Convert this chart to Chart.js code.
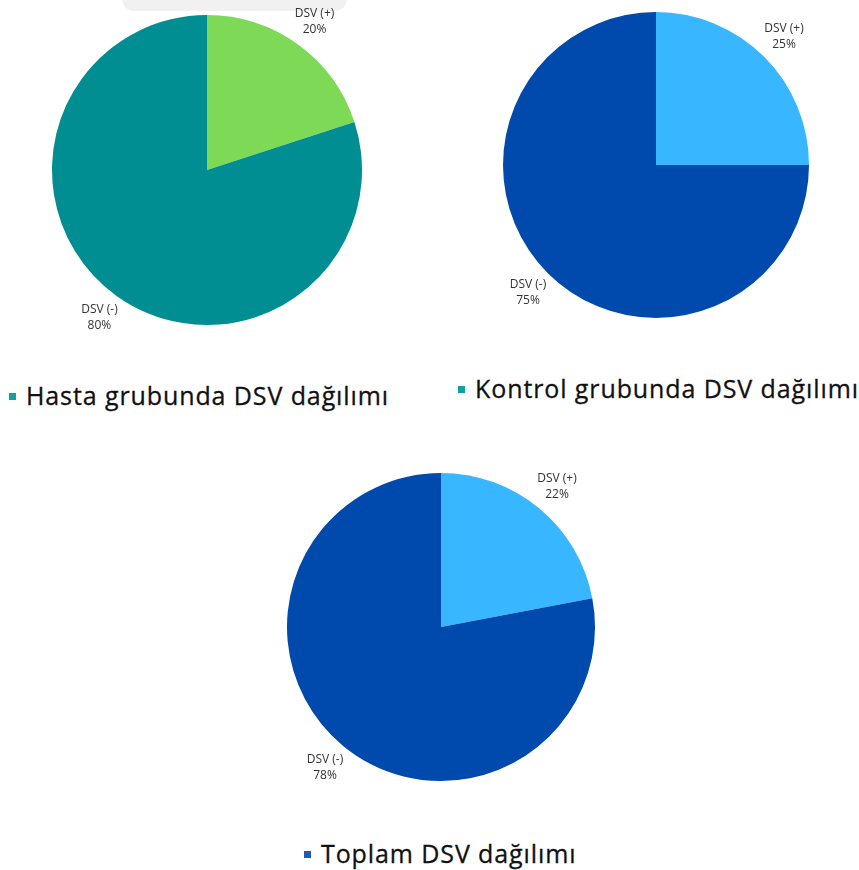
<!DOCTYPE html>
<html>
<head>
<meta charset="utf-8">
<script src="https://cdn.jsdelivr.net/npm/chart.js@4"></script>
<style>
  html, body { margin: 0; padding: 0; background: #fff; }
  body { width: 859px; height: 870px; position: relative; overflow: hidden; font-family: "Open Sans", sans-serif; }
  .pie { position: absolute; }
  .legend { position: absolute; font-size: 25px; font-weight: 500; letter-spacing: 0.9px; color: #111; white-space: nowrap; line-height: 30px; -webkit-text-stroke: 0.3px #111; }
  .legend span { display: inline-block; width: 7px; height: 7px; margin-right: 10px; vertical-align: middle; position: relative; top: -2px; }
  .shade { position: absolute; left: 122px; top: -11px; width: 225px; height: 22px; background: #f1f1f1; border-radius: 0 0 12px 12px; }
</style>
</head>
<body>
<div class="shade"></div>
<canvas id="pie1" class="pie"></canvas>
<canvas id="pie2" class="pie"></canvas>
<canvas id="pie3" class="pie"></canvas>
<div class="legend" id="leg1"></div>
<div class="legend" id="leg2"></div>
<div class="legend" id="leg3"></div>
<script>
// data
const categories = ['DSV (+)', 'DSV (-)'];
const hastaValues = [20, 80];
const kontrolValues = [25, 75];
const toplamValues = [22, 78];
const chartTitles = ['Hasta grubunda DSV dağılımı', 'Kontrol grubunda DSV dağılımı', 'Toplam DSV dağılımı'];

const PAD = 45;

// labels drawn outside each slice: name + percent
const outsideLabels = {
    id: 'outsideLabels',
    afterDatasetsDraw(chart) {
        const ctx = chart.ctx;
        const meta = chart.getDatasetMeta(0);
        const values = chart.data.datasets[0].data;
        ctx.save();
        ctx.font = '12px "Open Sans", sans-serif';
        ctx.fillStyle = '#333';
        ctx.textAlign = 'center';
        ctx.textBaseline = 'middle';
        meta.data.forEach((arc, i) => {
            const p = arc.getProps(['x', 'y', 'startAngle', 'endAngle', 'outerRadius'], true);
            const mid = (p.startAngle + p.endAngle) / 2;
            const r = p.outerRadius + 28;
            const x = p.x + Math.cos(mid) * r;
            const y = p.y + Math.sin(mid) * r;
            ctx.fillText(chart.data.labels[i], x, y - 8);
            ctx.fillText(values[i] + '%', x, y + 8);
        });
        ctx.restore();
    }
};

function makePie(id, values, colors, cx, cy, r) {
    const el = document.getElementById(id);
    const size = 2 * (r + PAD);
    el.style.left = (cx - r - PAD) + 'px';
    el.style.top = (cy - r - PAD) + 'px';
    el.style.width = size + 'px';
    el.style.height = size + 'px';
    el.width = size;
    el.height = size;
    new Chart(el.getContext('2d'), {
        type: 'pie',
        data: {
            labels: categories,
            datasets: [{
                data: values,
                backgroundColor: colors,
                borderWidth: 0
            }]
        },
        options: {
            responsive: false,
            animation: false,
            layout: { padding: PAD },
            plugins: {
                legend: { display: false },
                tooltip: { enabled: false }
            }
        },
        plugins: [outsideLabels]
    });
}

function makeLegend(id, text, color, left, top) {
    const el = document.getElementById(id);
    el.style.left = left + 'px';
    el.style.top = top + 'px';
    el.innerHTML = '<span style="background:' + color + '"></span>' + text;
}

makePie('pie1', hastaValues, ['#7ED957', '#008E93'], 207, 170, 155);
makePie('pie2', kontrolValues, ['#38B6FF', '#004AAD'], 656, 165, 153);
makePie('pie3', toplamValues, ['#38B6FF', '#004AAD'], 441, 627, 154);

makeLegend('leg1', chartTitles[0], '#14A0A0', 9, 380);
makeLegend('leg2', chartTitles[1], '#14A0A0', 458, 373);
makeLegend('leg3', chartTitles[2], '#1F5BB8', 304, 838);
</script>
</body>
</html>
